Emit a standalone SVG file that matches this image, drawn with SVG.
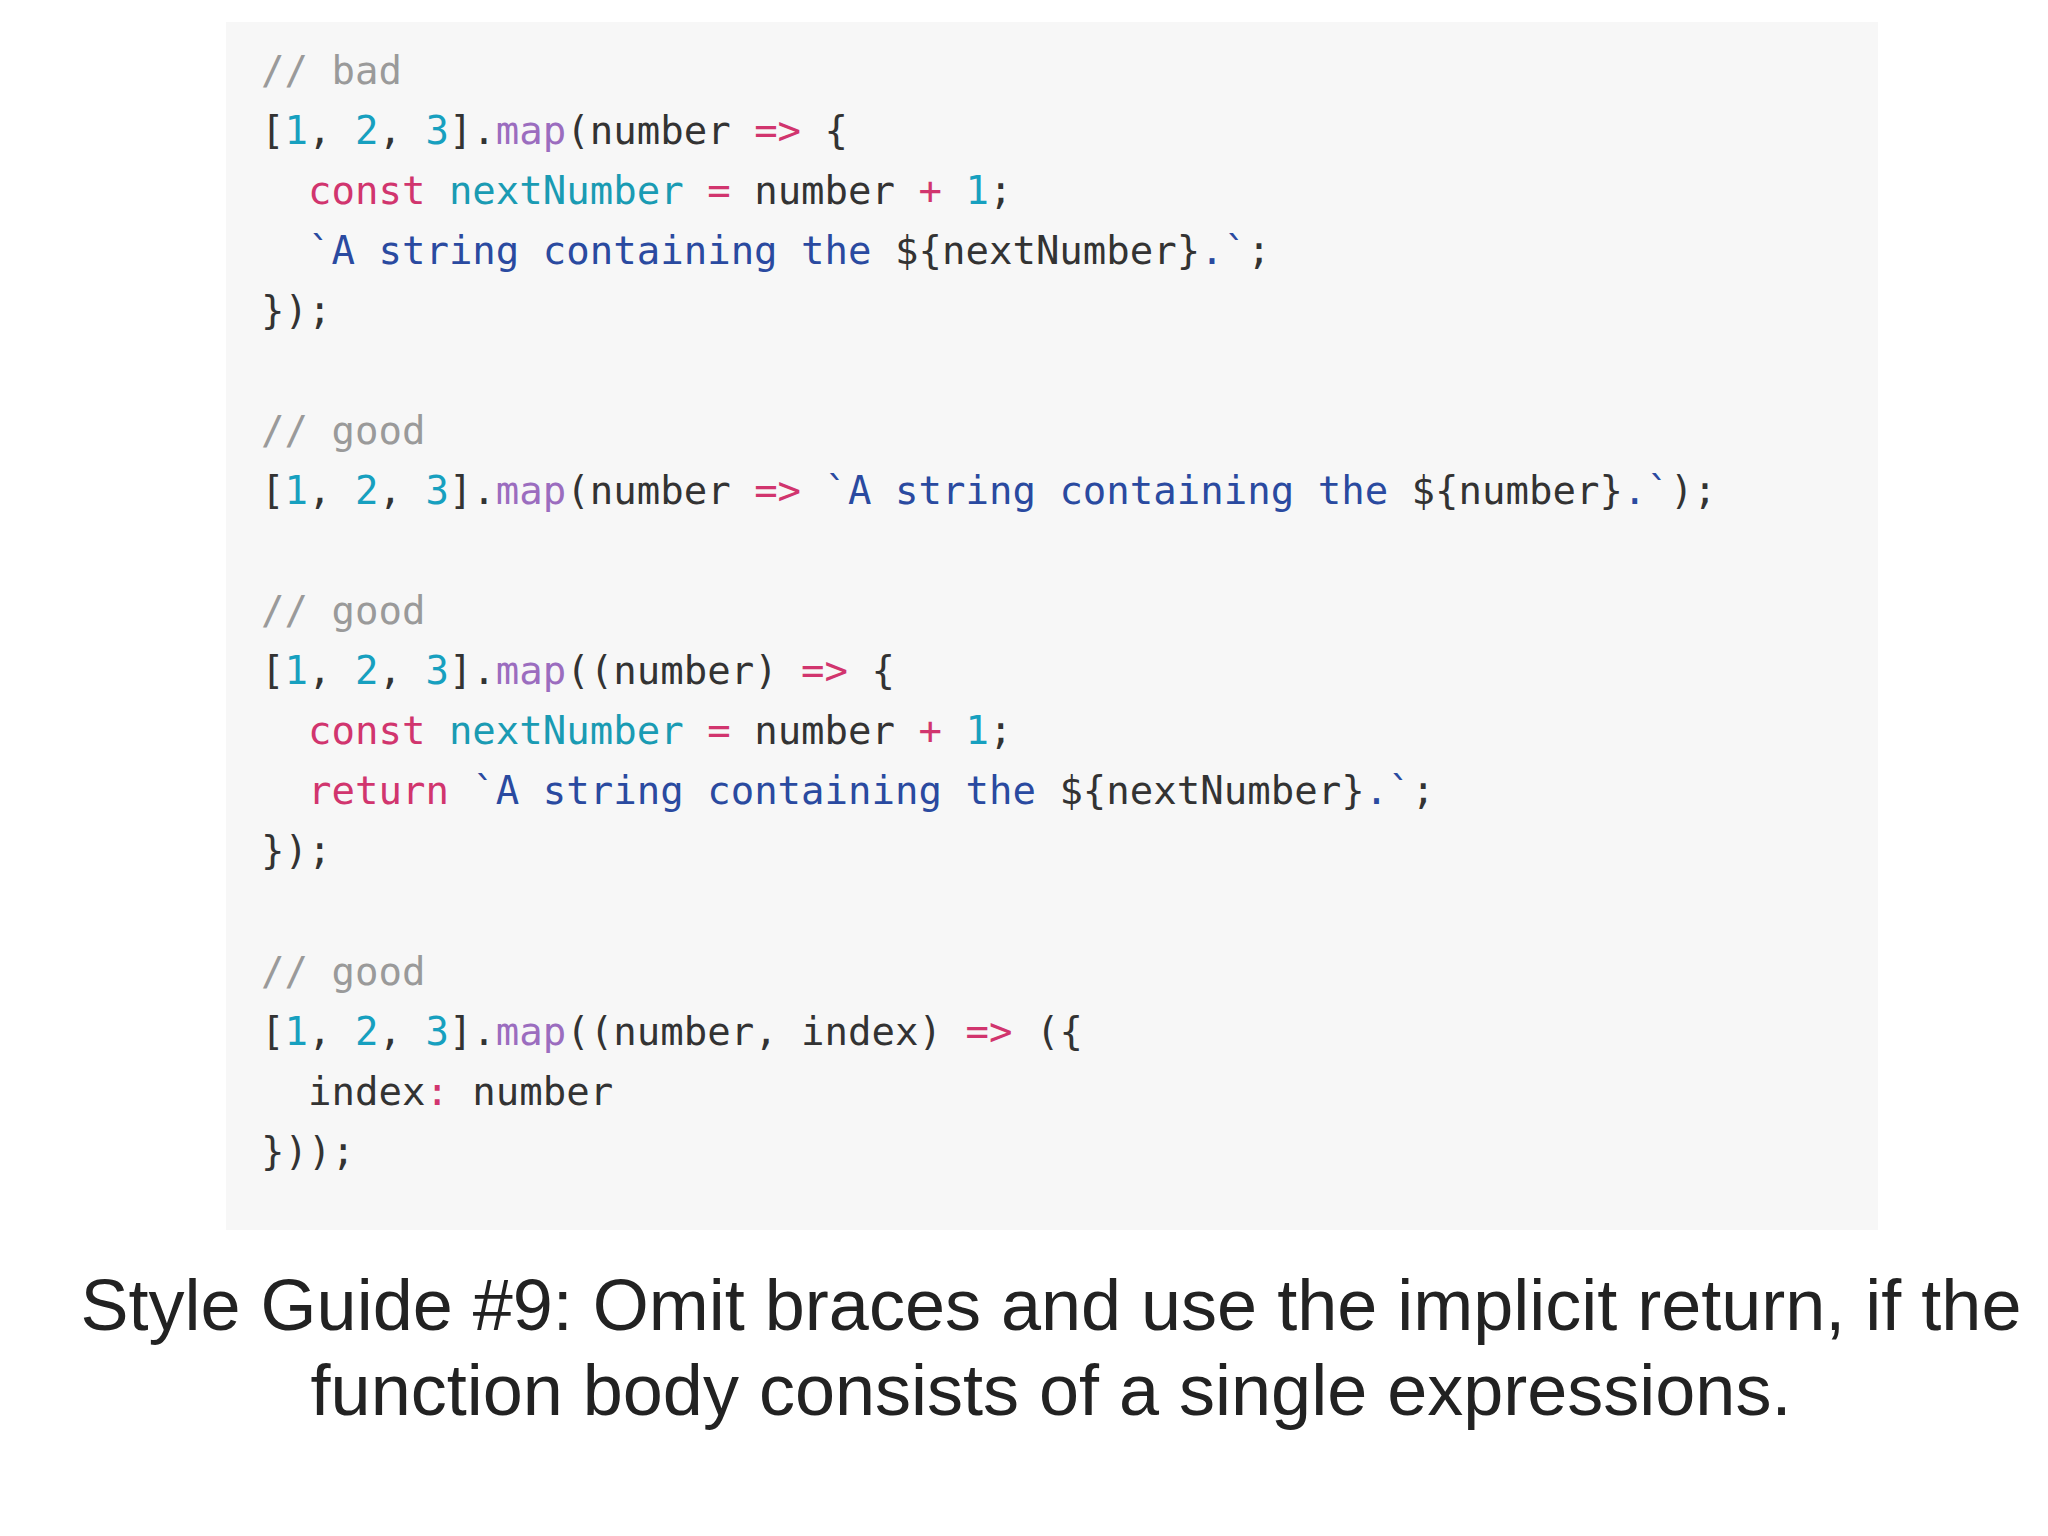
<svg xmlns="http://www.w3.org/2000/svg" width="2048" height="1536" viewBox="0 0 2048 1536">
<style>
.c{font-family:"DejaVu Sans Mono","Liberation Mono",monospace;font-size:39px;fill:#333;white-space:pre}
.cm{fill:#9a9a9a}.n{fill:#17a0bf}.f{fill:#9b6dbf}.k{fill:#d1356e}.v{fill:#1a9bb3}.s{fill:#2a4aa0}
.cap{font-family:"Liberation Sans",Arial,sans-serif;font-size:72px;fill:#222;text-anchor:middle}
</style>
<rect width="2048" height="1536" fill="#fff"/>
<g id="code-box">
<rect x="226" y="22" width="1652" height="1208" fill="#f7f7f7"/>
<text x="261" y="84" class="c cm">// bad</text>
<text x="261" y="144" class="c">[<tspan class="n">1</tspan>, <tspan class="n">2</tspan>, <tspan class="n">3</tspan>].<tspan class="f">map</tspan>(number <tspan class="k">=&gt;</tspan> {</text>
<text x="308" y="204" class="c"><tspan class="k">const</tspan> <tspan class="v">nextNumber</tspan> <tspan class="k">=</tspan> number <tspan class="k">+</tspan> <tspan class="n">1</tspan>;</text>
<text x="308" y="264" class="c"><tspan class="s">`A string containing the </tspan>${nextNumber}<tspan class="s">.`</tspan>;</text>
<text x="261" y="324" class="c">});</text>
<text x="261" y="444" class="c cm">// good</text>
<text x="261" y="504" class="c">[<tspan class="n">1</tspan>, <tspan class="n">2</tspan>, <tspan class="n">3</tspan>].<tspan class="f">map</tspan>(number <tspan class="k">=&gt;</tspan> <tspan class="s">`A string containing the </tspan>${number}<tspan class="s">.`</tspan>);</text>
<text x="261" y="624" class="c cm">// good</text>
<text x="261" y="684" class="c">[<tspan class="n">1</tspan>, <tspan class="n">2</tspan>, <tspan class="n">3</tspan>].<tspan class="f">map</tspan>((number) <tspan class="k">=&gt;</tspan> {</text>
<text x="308" y="744" class="c"><tspan class="k">const</tspan> <tspan class="v">nextNumber</tspan> <tspan class="k">=</tspan> number <tspan class="k">+</tspan> <tspan class="n">1</tspan>;</text>
<text x="308" y="804" class="c"><tspan class="k">return</tspan> <tspan class="s">`A string containing the </tspan>${nextNumber}<tspan class="s">.`</tspan>;</text>
<text x="261" y="864" class="c">});</text>
<text x="261" y="985" class="c cm">// good</text>
<text x="261" y="1045" class="c">[<tspan class="n">1</tspan>, <tspan class="n">2</tspan>, <tspan class="n">3</tspan>].<tspan class="f">map</tspan>((number, index) <tspan class="k">=&gt;</tspan> ({</text>
<text x="308" y="1105" class="c">index<tspan class="k">:</tspan> number</text>
<text x="261" y="1165" class="c">}));</text>
</g>
<g id="caption">
<text x="1051" y="1330" class="cap">Style Guide #9: Omit braces and use the implicit return, if the</text>
<text x="1051" y="1415" class="cap">function body consists of a single expressions.</text>
</g>
</svg>
